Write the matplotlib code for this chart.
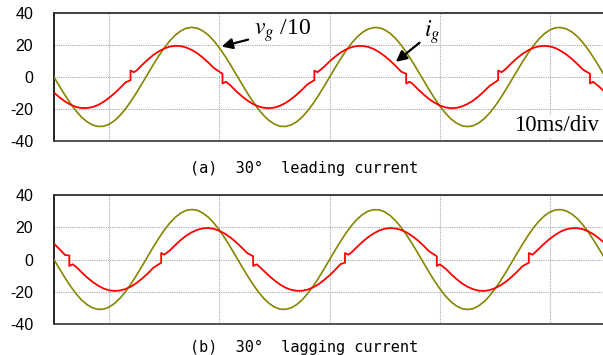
import matplotlib
matplotlib.use("Agg")
import matplotlib.pyplot as plt
import numpy as np

plt.rcParams['axes.unicode_minus'] = False
plt.rcParams['mathtext.fontset'] = 'stix'

# time axis (ms), 10 ms per division, sampled every 0.5 ms
t_v = np.arange(0, 50.5, 0.5)
# grid voltage / 10 (same in both panels)
vg = [0, -5.8, -11.4, -16.6, -21.2, -25.1, -28.0, -30.0, -30.9, -30.8,
      -29.5, -27.2, -23.9, -19.8, -14.9, -9.6, -3.9, 1.9, 7.7, 13.2,
      18.2, 22.6, 26.2, 28.8, 30.5, 31.0, 30.5, 28.8, 26.2, 22.6,
      18.2, 13.2, 7.7, 1.9, -3.9, -9.6, -14.9, -19.8, -23.9, -27.2,
      -29.5, -30.8, -30.9, -30.0, -28.0, -25.1, -21.2, -16.6, -11.4, -5.8,
      0,
      5.8, 11.4, 16.6, 21.2, 25.1, 28.0, 30.0, 30.9, 30.8,
      29.5, 27.2, 23.9, 19.8, 14.9, 9.6, 3.9, -1.9, -7.7, -13.2,
      -18.2, -22.6, -26.2, -28.8, -30.5, -31.0, -30.5, -28.8, -26.2, -22.6,
      -18.2, -13.2, -7.7, -1.9, 3.9, 9.6, 14.9, 19.8, 23.9, 27.2,
      29.5, 30.8, 30.9, 30.0, 28.0, 25.1, 21.2, 16.6, 11.4, 5.8, 0]

# (a) leading current
t_a = [0, 0.5, 1, 1.5, 2, 2.5, 3, 3.5, 4, 4.5, 5, 5.5, 6, 6.5,
       6.94, 6.94, 7.25,
       7.5, 8, 8.5, 9, 9.5, 10, 10.5, 11, 11.5, 12, 12.5, 13, 13.5, 14, 14.5,
       15.28, 15.28, 15.6,
       16, 16.5, 17, 17.5, 18, 18.5, 19, 19.5, 20, 20.5, 21, 21.5, 22, 22.5, 23,
       23.61, 23.61, 23.9,
       24.5, 25, 25.5, 26, 26.5, 27, 27.5, 28, 28.5, 29, 29.5, 30, 30.5, 31, 31.5,
       31.94, 31.94, 32.25,
       32.5, 33, 33.5, 34, 34.5, 35, 35.5, 36, 36.5, 37, 37.5, 38, 38.5, 39, 39.5,
       40.28, 40.28, 40.6,
       41, 41.5, 42, 42.5, 43, 43.5, 44, 44.5, 45, 45.5, 46, 46.5, 47, 47.5, 48,
       48.61, 48.61, 48.9,
       49.5, 50]
i_a = [-9.8, -12.7, -15.3, -17.3, -18.7, -19.4, -19.4, -18.8, -17.5, -15.5, -13.0, -10.1, -6.8, -3.3,
       -2.0, 4.0, 3.0,
       4.1, 7.6, 10.8, 13.7, 16.0, 17.8, 19.0, 19.5, 19.3, 18.4, 16.9, 14.8, 12.1, 9.0, 5.6,
       2.0, -4.0, -3.0,
       -5.2, -8.7, -11.8, -14.5, -16.7, -18.3, -19.2, -19.5, -19.1, -18.0, -16.2, -13.9, -11.1, -7.9, -4.5,
       -2.0, 4.0, 3.0,
       6.4, 9.8, 12.7, 15.3, 17.3, 18.7, 19.4, 19.4, 18.8, 17.5, 15.5, 13.0, 10.1, 6.8, 3.3,
       2.0, -4.0, -3.0,
       -4.1, -7.6, -10.8, -13.7, -16.0, -17.8, -19.0, -19.5, -19.3, -18.4, -16.9, -14.8, -12.1, -9.0, -5.6,
       -2.0, 4.0, 3.0,
       5.2, 8.7, 11.8, 14.5, 16.7, 18.3, 19.2, 19.5, 19.1, 18.0, 16.2, 13.9, 11.1, 7.9, 4.5,
       2.0, -4.0, -3.0,
       -6.4, -9.8]

# (b) lagging current
t_b = [0, 0.5, 1,
       1.39, 1.39, 1.7,
       2, 2.5, 3, 3.5, 4, 4.5, 5, 5.5, 6, 6.5, 7, 7.5, 8, 8.5, 9,
       9.72, 9.72, 10.0,
       10.5, 11, 11.5, 12, 12.5, 13, 13.5, 14, 14.5, 15, 15.5, 16, 16.5, 17, 17.5,
       18.06, 18.06, 18.4,
       19, 19.5, 20, 20.5, 21, 21.5, 22, 22.5, 23, 23.5, 24, 24.5, 25, 25.5, 26,
       26.39, 26.39, 26.7,
       27, 27.5, 28, 28.5, 29, 29.5, 30, 30.5, 31, 31.5, 32, 32.5, 33, 33.5, 34,
       34.72, 34.72, 35.0,
       35.5, 36, 36.5, 37, 37.5, 38, 38.5, 39, 39.5, 40, 40.5, 41, 41.5, 42, 42.5,
       43.06, 43.06, 43.4,
       44, 44.5, 45, 45.5, 46, 46.5, 47, 47.5, 48, 48.5, 49, 49.5, 50]
i_b = [9.8, 6.4, 2.8,
       2.5, -4.0, -3.0,
       -4.5, -7.9, -11.1, -13.9, -16.2, -18.0, -19.1, -19.5, -19.2, -18.3, -16.7, -14.5, -11.8, -8.7, -5.2,
       -2.0, 4.0, 3.0,
       5.6, 9.0, 12.1, 14.8, 16.9, 18.4, 19.3, 19.5, 19.0, 17.8, 16.0, 13.7, 10.8, 7.6, 4.1,
       2.0, -4.0, -3.0,
       -6.8, -10.1, -13.0, -15.5, -17.5, -18.8, -19.4, -19.4, -18.7, -17.3, -15.3, -12.7, -9.8, -6.4, -2.8,
       -2.0, 4.0, 3.0,
       4.5, 7.9, 11.1, 13.9, 16.2, 18.0, 19.1, 19.5, 19.2, 18.3, 16.7, 14.5, 11.8, 8.7, 5.2,
       2.0, -4.0, -3.0,
       -5.6, -9.0, -12.1, -14.8, -16.9, -18.4, -19.3, -19.5, -19.0, -17.8, -16.0, -13.7, -10.8, -7.6, -4.1,
       -2.0, 4.0, 3.0,
       6.8, 10.1, 13.0, 15.5, 17.5, 18.8, 19.4, 19.4, 18.7, 17.3, 15.3, 12.7, 9.8]

yticks = [-40, -20, 0, 20, 40]
xgrid = [5, 15, 25, 35, 45]
captions = ["(a)  30°  leading current", "(b)  30°  lagging current"]

W, H = 603, 355
fig = plt.figure(figsize=(W / 100, H / 100), dpi=100)

def make_ax(top_px, bot_px):
    ax = fig.add_axes([54 / W, 1 - bot_px / H, 1 - 54 / W + 0.002, (bot_px - top_px) / H])
    ax.set_xlim(0, 49.9)
    ax.set_ylim(-40, 40)
    ax.set_yticks(yticks)
    ax.set_yticklabels([str(v) for v in yticks], fontfamily='Liberation Sans', fontsize=11.5)
    ax.set_xticks(xgrid)
    ax.set_xticklabels([])
    ax.tick_params(length=0, pad=15)
    ax.grid(True, color='#a8a8a8', linestyle=(0, (1, 1)), linewidth=0.8)
    ax.set_axisbelow(True)
    ax.spines['right'].set_visible(False)
    ax.spines['left'].set_color('#111111')
    ax.spines['top'].set_color('#333333')
    ax.spines['bottom'].set_color('#444444')
    for s in ax.spines.values():
        s.set_linewidth(1.3)
    return ax

ax1 = make_ax(13, 141)
ax2 = make_ax(195, 324)

olive = '#858500'
for ax, t_i, cur in ((ax1, t_a, i_a), (ax2, t_b, i_b)):
    ax.plot(t_v, vg, color=olive, lw=1.2, zorder=3)
    ax.plot(t_i, cur, color='#ff0000', lw=1.3, zorder=4)

# annotations on the top panel
ax1.annotate(r"$v_g$ /10", xy=(15.2, 19.0), xytext=(18.1, 29.0),
             fontsize=17, fontfamily='Liberation Serif', va='center', ha='left',
             arrowprops=dict(arrowstyle='-|>', color='black', lw=1.6, mutation_scale=16,
                             shrinkA=2, shrinkB=0))
ax1.annotate(r"$i_g$", xy=(31.0, 9.5), xytext=(33.6, 28.0),
             fontsize=17, va='center', ha='left',
             arrowprops=dict(arrowstyle='-|>', color='black', lw=1.6, mutation_scale=16,
                             shrinkA=2, shrinkB=0))
ax1.text(45.6, -30.5, "10ms/div", fontsize=16.5, fontfamily='Liberation Serif',
         ha='center', va='center', zorder=5,
         bbox=dict(facecolor='white', edgecolor='none', pad=0.5))

fig.text(304 / W, 1 - 168 / H, captions[0], ha='center', va='center',
         fontfamily='DejaVu Sans Mono', fontsize=11)
fig.text(304 / W, 1 - 347 / H, captions[1], ha='center', va='center',
         fontfamily='DejaVu Sans Mono', fontsize=11)

fig.savefig("out.png", dpi=100)
